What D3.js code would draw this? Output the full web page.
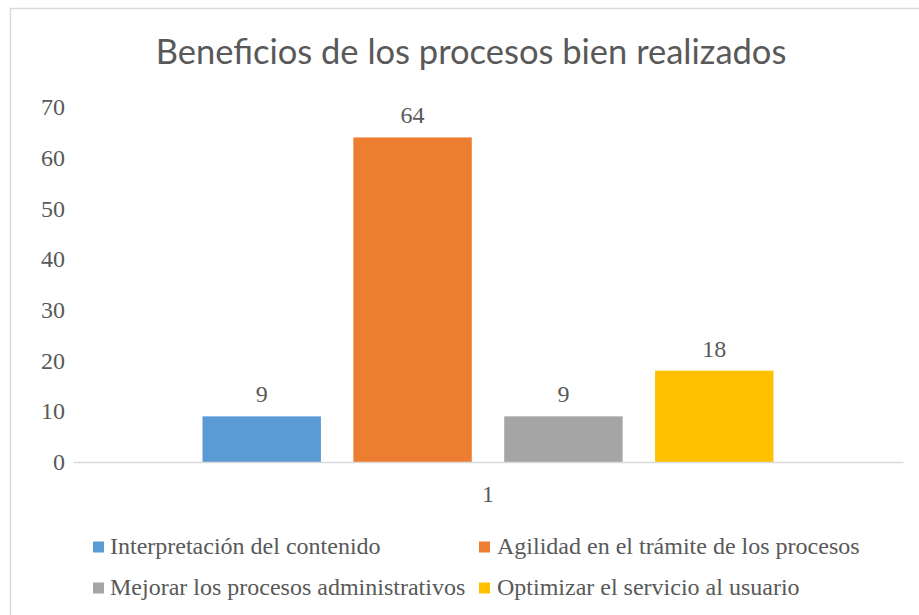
<!DOCTYPE html>
<html>
<head>
<meta charset="utf-8">
<script src="https://cdn.jsdelivr.net/npm/d3@7"></script>
<style>
  html, body { margin: 0; padding: 0; background: #fff; }
  svg { display: block; }
</style>
</head>
<body>
<svg id="chart" width="919" height="615"></svg>
<script>
const title = "Beneficios de los procesos bien realizados";
const categories = ["1"];
const seriesNames = [
  "Interpretación del contenido",
  "Agilidad en el trámite de los procesos",
  "Mejorar los procesos administrativos",
  "Optimizar el servicio al usuario"
];
const seriesValues = [9, 64, 9, 18];
const seriesColors = ["#5B9BD5", "#ED7D31", "#A5A5A5", "#FFC000"];
const yTicks = [0, 10, 20, 30, 40, 50, 60, 70];

const svg = d3.select("#chart");
const textColor = "#595959";
const serif = "'Liberation Serif', 'Times New Roman', serif";
const fs = 24;

// chart border
svg.append("rect")
  .attr("x", 10.5).attr("y", 8.5)
  .attr("width", 1000).attr("height", 1000)
  .attr("fill", "none").attr("stroke", "#d9d9d9").attr("stroke-width", 1.5);

// title
svg.append("text")
  .attr("x", 471).attr("y", 64)
  .attr("text-anchor", "middle")
  .attr("font-family", "Lato, 'Open Sans', sans-serif")
  .attr("font-size", 34.5)
  .attr("fill", textColor)
  .text(title);

const plot = { left: 73, right: 903, top: 107, bottom: 462 };

const y = d3.scaleLinear().domain([0, 70]).range([plot.bottom, plot.top]);
const x0 = d3.scaleBand().domain(categories).range([plot.left, plot.right])
  .paddingInner(0).paddingOuter(0.2268);
const x1 = d3.scaleBand().domain(seriesNames).range([0, x0.bandwidth()])
  .paddingInner(0.215).paddingOuter(0);

// y axis labels
const yAxis = d3.axisLeft(y).tickValues(yTicks).tickSize(0).tickPadding(0);
const yg = svg.append("g").attr("transform", `translate(${plot.left - 8},0)`).call(yAxis);
yg.select(".domain").remove();
yg.selectAll("text")
  .attr("font-family", serif).attr("font-size", fs).attr("fill", textColor);

// bars
const groups = svg.append("g").selectAll("g").data(categories).join("g")
  .attr("transform", d => `translate(${x0(d)},0)`);

groups.selectAll("rect")
  .data(() => seriesNames.map((n, i) => ({ name: n, value: seriesValues[i], color: seriesColors[i] })))
  .join("rect")
  .attr("x", d => x1(d.name))
  .attr("y", d => y(d.value))
  .attr("width", x1.bandwidth())
  .attr("height", d => y(0) - y(d.value))
  .attr("fill", d => d.color);

groups.selectAll("text.lbl")
  .data(() => seriesNames.map((n, i) => ({ name: n, value: seriesValues[i] })))
  .join("text")
  .attr("class", "lbl")
  .attr("x", d => x1(d.name) + x1.bandwidth() / 2)
  .attr("y", d => y(d.value) - 14)
  .attr("text-anchor", "middle")
  .attr("font-family", serif).attr("font-size", fs).attr("fill", textColor)
  .text(d => d.value);

// baseline / x axis
const xAxis = d3.axisBottom(x0).tickSize(0).tickPadding(0);
const xg = svg.append("g").attr("transform", `translate(0,${plot.bottom})`).call(xAxis);
xg.select(".domain").attr("stroke", "#d9d9d9").attr("stroke-width", 1.5);
xg.selectAll("text")
  .attr("dy", null)
  .attr("y", 40)
  .attr("font-family", serif).attr("font-size", fs).attr("fill", textColor);

// legend
const legendPos = [
  { sx: 93, tx: 110, cy: 547 },
  { sx: 479, tx: 497, cy: 547 },
  { sx: 93, tx: 110, cy: 588 },
  { sx: 479, tx: 497, cy: 588 }
];
const lg = svg.append("g").selectAll("g").data(seriesNames).join("g");
lg.append("rect")
  .attr("x", (d, i) => legendPos[i].sx)
  .attr("y", (d, i) => legendPos[i].cy - 5.5)
  .attr("width", 11).attr("height", 11)
  .attr("fill", (d, i) => seriesColors[i]);
lg.append("text")
  .attr("x", (d, i) => legendPos[i].tx)
  .attr("y", (d, i) => legendPos[i].cy + 7)
  .attr("font-family", serif).attr("font-size", fs).attr("fill", textColor)
  .text(d => d);
</script>
</body>
</html>
